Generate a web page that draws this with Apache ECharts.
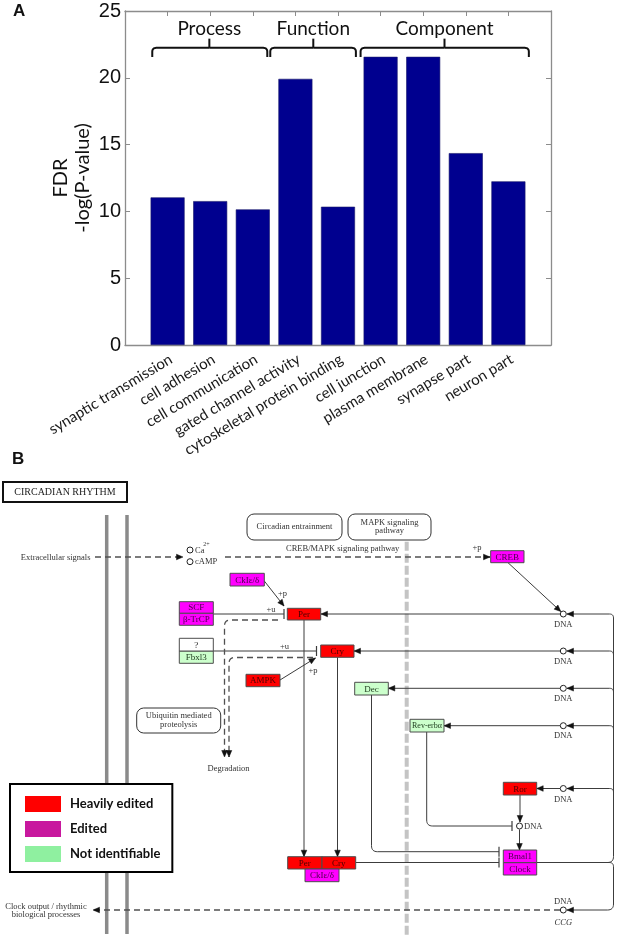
<!DOCTYPE html>
<html><head><meta charset="utf-8">
<script src="https://cdn.jsdelivr.net/npm/echarts@6/dist/echarts.min.js"></script>
<style>html,body{margin:0;padding:0;background:#fff}#c{width:617px;height:938px}</style>
</head><body><div id="c"></div><script>
// ---------- Panel A data ----------
const categories = ['synaptic transmission','cell adhesion','cell communication','gated channel activity','cytoskeletal protein binding','cell junction','plasma membrane','synapse part','neuron part'];
const fdrValues = [11.05, 10.77, 10.15, 19.92, 10.35, 21.57, 21.57, 14.36, 12.25];
const yTickValues = [0, 5, 10, 15, 20, 25];
const groupNames = ['Process', 'Function', 'Component'];
const groupStart = [0.64, 3.41, 5.53];
const groupEnd = [3.34, 5.42, 9.48];
const groupMid = [1.98, 4.42, 7.5];

// ---------- Panel B data (KEGG circadian rhythm map, map units) ----------
const statusNames = ['Heavily edited', 'Edited', 'Not identifiable'];
const geneBoxes = [ // label, x, y, w, h, status
  ['CREB',     490.7, 550.7, 33.3, 12.0, 'Edited'],
  ['CkIε/δ',   230.0, 573.3, 34.3, 12.7, 'Edited'],
  ['SCF',      179.3, 601.7, 34.0, 11.6, 'Edited'],
  ['β-TrCP',   179.3, 613.3, 34.0, 12.0, 'Edited'],
  ['?',        179.3, 638.3, 34.0, 12.7, 'Unknown'],
  ['Fbxl3',    179.3, 651.0, 34.0, 12.3, 'Not identifiable'],
  ['Per',      287.3, 608.3, 33.4, 11.7, 'Heavily edited'],
  ['Cry',      320.7, 645.0, 33.3, 12.3, 'Heavily edited'],
  ['AMPK',     246.0, 674.3, 34.0, 12.4, 'Heavily edited'],
  ['Dec',      354.7, 682.3, 33.6, 12.7, 'Not identifiable'],
  ['Rev-erbα', 410.0, 719.3, 34.0, 12.7, 'Not identifiable'],
  ['Ror',      503.3, 782.3, 33.4, 12.7, 'Heavily edited'],
  ['Per',      287.7, 856.7, 34.3, 12.3, 'Heavily edited'],
  ['Cry',      322.0, 856.7, 33.7, 12.3, 'Heavily edited'],
  ['CkIε/δ',   305.0, 869.0, 34.0, 12.7, 'Edited'],
  ['Bmal1',    503.3, 850.0, 33.4, 12.7, 'Edited'],
  ['Clock',    503.3, 862.7, 33.4, 12.3, 'Edited']
];
const relations = [ // points, end, dashed
  [[[95,557],[183,557]], 'arrow', true],
  [[[225,557],[490,557]], 'arrow', true],
  [[[508,562.7],[560.8,611.5]], 'arrow', false],
  [[[264.3,581],[284,606]], 'arrow', false],
  [[[213.3,614],[284,614]], 'inhibit', false],
  [[[213.3,651],[316.5,651]], 'inhibit', false],
  [[[280,680],[315.5,658]], 'arrow', false],
  [[[560,614],[321,614]], 'arrow', false],
  [[[560,651],[354,651]], 'arrow', false],
  [[[560,688.3],[388.3,688.3]], 'arrow', false],
  [[[560,725.7],[444,725.7]], 'arrow', false],
  [[[304,620],[304,856.7]], 'arrow', false],
  [[[337.5,657.3],[337.5,856.7]], 'arrow', false],
  [[[371.5,695],[371.5,851.7],[499,851.7]], 'inhibit', false],
  [[[355.7,862.5],[499,862.5]], 'inhibit', false],
  [[[426.7,732],[426.7,826],[512,826]], 'inhibit', false],
  [[[520,795],[520,822]], 'arrow', false],
  [[[519.5,829.5],[519.5,850]], 'arrow', false],
  [[[560,788.5],[536.7,788.5]], 'arrow', false],
  [[[613.5,622],[613.5,614],[567,614]], 'arrow', false],
  [[[613.5,659],[613.5,651],[567,651]], 'arrow', false],
  [[[613.5,696],[613.5,688.3],[567,688.3]], 'arrow', false],
  [[[613.5,733],[613.5,725.7],[567,725.7]], 'arrow', false],
  [[[613.5,796],[613.5,788.5],[567,788.5]], 'arrow', false],
  [[[613.5,620],[613.5,862.5],[536.7,862.5]], 'line', false],
  [[[605,862.5],[613.5,862.5],[613.5,910],[567,910]], 'arrow', false],
  [[[560,910],[93,910]], 'arrow', true],
  [[[278,620],[224.5,620],[224.5,757]], 'arrow', true],
  [[[313,657.5],[229,657.5],[229,757]], 'arrow', true]
];
const compoundSites = [[190,550],[190,561.7],[563.3,614],[563.3,651],[563.3,688.3],[563.3,725.7],[563.3,788.5],[519.5,826],[563.3,910]];
const mapTexts = [ // text, x, y, align, kind
  ['Extracellular signals', 90.5, 557.7, 'right', 'n'],
  ['Ca', 195, 550.5, 'left', 'n'],
  ['2+', 206.5, 544.5, 'center', 's'],
  ['cAMP', 195, 562, 'left', 'n'],
  ['CREB/MAPK signaling pathway', 286, 549, 'left', 'n'],
  ['+p', 477, 547.5, 'center', 'n'],
  ['+p', 282.5, 593.5, 'center', 'n'],
  ['+u', 271, 609.5, 'center', 'n'],
  ['+u', 284.5, 646.5, 'center', 'n'],
  ['+p', 313, 670.5, 'center', 'n'],
  ['DNA', 563.3, 624.5, 'center', 'n'],
  ['DNA', 563.3, 661.5, 'center', 'n'],
  ['DNA', 563.3, 698.8, 'center', 'n'],
  ['DNA', 563.3, 736.2, 'center', 'n'],
  ['DNA', 563.3, 800, 'center', 'n'],
  ['DNA', 524, 826.5, 'left', 'n'],
  ['DNA', 563.3, 901.5, 'center', 'n'],
  ['CCG', 563.3, 922.5, 'center', 'i'],
  ['Degradation', 228.5, 768.3, 'center', 'n'],
  ['Clock output / rhythmic', 46, 906.7, 'center', 'n'],
  ['biological processes', 46, 914.3, 'center', 'n']
];
const mapBoxes = [ // lines, x, y, w, h
  [['Circadian entrainment'], 247, 514, 95, 26],
  [['MAPK signaling', 'pathway'], 348, 514, 83, 26],
  [['Ubiquitin mediated', 'proteolysis'], 136.7, 708, 84, 25]
];
const membranes = [[106.7, 515, 934], [127, 515, 934]];
const nucleusEdge = [[406.7, 541.7, 936]];
const mapTitle = [['CIRCADIAN RHYTHM', 3, 482, 124, 20]];

// ---------- rendering ----------
const SERIF = '"Liberation Serif", "DejaVu Serif", serif';
const LINE = '#3c3c3c';
const boxFill = {'Heavily edited':'#ff0000', 'Edited':'#ff00ff', 'Not identifiable':'#ccffcc', 'Unknown':'#ffffff'};
const boxText = {'Heavily edited':'#4a0000', 'Edited':'#4a004a', 'Not identifiable':'#1c3a1c', 'Unknown':'#222'};
const legendColor = {'Heavily edited':'#ff0000', 'Edited':'#c8189e', 'Not identifiable':'#8ff0a0'};

function roundPts(pts, r) {
  if (pts.length < 3) return pts.slice();
  const out = [pts[0]];
  for (let i = 1; i < pts.length - 1; i++) {
    const p0 = pts[i-1], p1 = pts[i], p2 = pts[i+1];
    const d1 = Math.hypot(p1[0]-p0[0], p1[1]-p0[1]), d2 = Math.hypot(p2[0]-p1[0], p2[1]-p1[1]);
    const rr = Math.min(r, d1/2, d2/2);
    const a = [p1[0] + (p0[0]-p1[0])/d1*rr, p1[1] + (p0[1]-p1[1])/d1*rr];
    const b = [p1[0] + (p2[0]-p1[0])/d2*rr, p1[1] + (p2[1]-p1[1])/d2*rr];
    for (let k = 0; k <= 8; k++) {
      const t = k/8;
      out.push([(1-t)*(1-t)*a[0] + 2*(1-t)*t*p1[0] + t*t*b[0], (1-t)*(1-t)*a[1] + 2*(1-t)*t*p1[1] + t*t*b[1]]);
    }
  }
  out.push(pts[pts.length-1]);
  return out;
}
function txt(text, x, y, font, fill, align, va) {
  return {type:'text', style:{text, x, y, font, fill, align, verticalAlign: va || 'middle', textAlign: align, textVerticalAlign: va || 'middle'}};
}
const diag = {xAxisIndex:2, yAxisIndex:2, coordinateSystem:'cartesian2d', silent:true};

const series = [];
series.push({
  type:'bar', xAxisIndex:0, yAxisIndex:0, barWidth:34,
  data: fdrValues.map((v,i) => [i+1, v]),
  itemStyle:{color:'#00008f', borderColor:'#1a1a6a', borderWidth:0.6}, silent:true
});
series.push({
  type:'custom', xAxisIndex:0, yAxisIndex:0, silent:true,
  data: groupNames.map((n,i) => [groupStart[i], groupEnd[i], groupMid[i]]),
  renderItem: (params, api) => {
    const x0 = api.value(0), x1 = api.value(1), xm = api.value(2);
    const yEnd = 21.56, yLine = 22.24, yTip = 22.93, yText = 23.69;
    const st = {stroke:'#111', lineWidth:2, fill:'none'};
    const a = roundPts([api.coord([x0,yEnd]), api.coord([x0,yLine]), api.coord([xm,yLine])], 4);
    const b = roundPts([api.coord([xm,yLine]), api.coord([x1,yLine]), api.coord([x1,yEnd])], 4);
    const m0 = api.coord([xm,yLine]), m1 = api.coord([xm,yTip]);
    const t = api.coord([xm,yText]);
    return {type:'group', children:[
      {type:'polyline', shape:{points:a}, style:st},
      {type:'polyline', shape:{points:b}, style:st},
      {type:'line', shape:{x1:m0[0], y1:m0[1], x2:m1[0], y2:m1[1]}, style:st},
      txt(groupNames[params.dataIndex], t[0], t[1], '19px Lato', '#111', 'center')
    ]};
  }
});
series.push(Object.assign({type:'custom', data:[[0,0]], z:1,
  renderItem: (params, api) => {
    const ch = [];
    membranes.forEach(m => { const p = api.coord([m[0], m[1]]), q = api.coord([m[0], m[2]]);
      ch.push({type:'line', shape:{x1:p[0], y1:p[1], x2:q[0], y2:q[1]}, style:{stroke:'#8a8a8a', lineWidth:3.5}}); });
    nucleusEdge.forEach(m => { const p = api.coord([m[0], m[1]]), q = api.coord([m[0], m[2]]);
      ch.push({type:'line', shape:{x1:p[0], y1:p[1], x2:q[0], y2:q[1]}, style:{stroke:'#c4c4c4', lineWidth:4, lineDash:[9,3]}}); });
    mapTitle.forEach(m => { const p = api.coord([m[1], m[2]]);
      ch.push({type:'rect', shape:{x:p[0], y:p[1], width:m[3], height:m[4]}, style:{fill:'#fff', stroke:'#111', lineWidth:2}});
      ch.push(txt(m[0], p[0]+m[3]/2, p[1]+m[4]/2+0.5, '10px ' + SERIF, '#222', 'center')); });
    mapBoxes.forEach(m => { const p = api.coord([m[1], m[2]]);
      ch.push({type:'rect', shape:{x:p[0], y:p[1], width:m[3], height:m[4], r:7}, style:{fill:'#fff', stroke:'#333', lineWidth:1}});
      const n = m[0].length;
      m[0].forEach((line, k) => ch.push(txt(line, p[0]+m[3]/2, p[1]+m[4]/2 + (k-(n-1)/2)*8.5, '8.5px ' + SERIF, '#333', 'center'))); });
    return {type:'group', children:ch};
  }}, diag));
series.push(Object.assign({type:'custom', z:2,
  data: relations.map(r => [r[0][0][0], r[0][0][1]]),
  renderItem: (params, api) => {
    const [pts, kind, dashed] = relations[params.dataIndex];
    const px = pts.map(p => api.coord(p));
    const ch = [{type:'polyline', shape:{points:roundPts(px, 6)},
      style:{stroke: dashed ? '#505050' : LINE, lineWidth: dashed ? 1.3 : 1, lineDash: dashed ? [6,4] : null, fill:'none'}}];
    const e = px[px.length-1], s = px[px.length-2];
    const ang = Math.atan2(e[1]-s[1], e[0]-s[0]);
    const c = Math.cos(ang), sn = Math.sin(ang);
    if (kind === 'arrow') {
      const L = 6.5, W = 2.8, bx = e[0]-L*c, by = e[1]-L*sn;
      ch.push({type:'polygon', shape:{points:[[e[0],e[1]],[bx - W*sn, by + W*c],[bx + W*sn, by - W*c]]}, style:{fill:'#111', stroke:'#111', lineWidth:0.5}});
    } else if (kind === 'inhibit') {
      const H = 5;
      ch.push({type:'line', shape:{x1:e[0]-H*sn, y1:e[1]+H*c, x2:e[0]+H*sn, y2:e[1]-H*c}, style:{stroke:LINE, lineWidth:1.2}});
    }
    return {type:'group', children:ch};
  }}, diag));
series.push(Object.assign({type:'custom', z:3, data: compoundSites,
  renderItem: (params, api) => {
    const p = api.coord([api.value(0), api.value(1)]);
    return {type:'circle', shape:{cx:p[0], cy:p[1], r:3}, style:{fill:'#fff', stroke:'#222', lineWidth:1}};
  }}, diag));
series.push(Object.assign({type:'custom', z:3, data: mapTexts.map(t => [t[1], t[2]]),
  renderItem: (params, api) => {
    const t = mapTexts[params.dataIndex];
    const p = api.coord([t[1], t[2]]);
    const font = t[4] === 's' ? '6px ' + SERIF : t[4] === 'i' ? 'italic 8.5px ' + SERIF : '8.5px ' + SERIF;
    return txt(t[0], p[0], p[1], font, '#333', t[3]);
  }}, diag));
['Heavily edited', 'Edited', 'Not identifiable', 'Unknown'].forEach(st => {
  series.push(Object.assign({type:'custom', name: st, z:4,
    itemStyle:{color: legendColor[st] || '#fff'},
    data: geneBoxes.map((g,i) => [g[1], g[2], i]).filter(d => geneBoxes[d[2]][5] === st),
    renderItem: (params, api) => {
      const g = geneBoxes[api.value(2)];
      const p = api.coord([g[1], g[2]]);
      const fs = g[0].length > 6 ? 8 : 9;
      return {type:'group', children:[
        {type:'rect', shape:{x:p[0], y:p[1], width:g[3], height:g[4]}, style:{fill:boxFill[g[5]], stroke:'#4d4d4d', lineWidth:1}},
        txt(g[0], p[0]+g[3]/2, p[1]+g[4]/2+0.5, fs + 'px ' + SERIF, boxText[g[5]], 'center')
      ]};
    }}, diag));
});

const chart = echarts.init(document.getElementById('c'));
chart.setOption({
  animation:false,
  backgroundColor:'#fff',
  title:[
    {text:'A', left:13, top:3, padding:0, textStyle:{fontFamily:'Liberation Sans', fontWeight:'bold', fontSize:17, color:'#111'}},
    {text:'B', left:12, top:451, padding:0, textStyle:{fontFamily:'Liberation Sans', fontWeight:'bold', fontSize:17, color:'#111'}}
  ],
  legend:{
    data: statusNames.map(n => ({name:n, itemStyle:{color:legendColor[n], borderWidth:0}})),
    orient:'vertical', left:10, top:784, icon:'rect', itemWidth:36, itemHeight:16, itemGap:9,
    padding:[12,12,10,15], backgroundColor:'#fff', borderColor:'#000', borderWidth:2, selectedMode:false,
    textStyle:{fontFamily:'Lato', fontWeight:'bold', fontSize:13, color:'#111', padding:[0,0,0,4]}
  },
  grid:[
    {left:125, top:11, width:426, height:334},
    {left:0, top:0, width:617, height:938}
  ],
  xAxis:[
    {gridIndex:0, type:'value', min:0, max:10, interval:1, position:'bottom',
      axisLine:{show:true, onZero:false, lineStyle:{color:'#8c8c8c', width:1.3}}, axisTick:{show:false}, splitLine:{show:false},
      axisLabel:{rotate:31, margin:15, padding:[0,-4,0,0], fontFamily:'Lato', fontSize:15, color:'#1a1a1a',
        formatter: v => (v >= 1 && v <= 9) ? categories[Math.round(v)-1] : ''}},
    {gridIndex:0, type:'value', min:0, max:10, interval:1, position:'top',
      axisLine:{show:true, onZero:false, lineStyle:{color:'#8c8c8c', width:1.3}},
      axisTick:{show:true, inside:true, length:5, lineStyle:{color:'#8c8c8c'}}, axisLabel:{show:false}, splitLine:{show:false}},
    {gridIndex:1, type:'value', min:0, max:617, show:false}
  ],
  yAxis:[
    {gridIndex:0, type:'value', min:0, max:25, interval:5, position:'left',
      axisLine:{show:true, onZero:false, lineStyle:{color:'#8c8c8c', width:1.3}},
      axisTick:{show:true, inside:true, length:5, lineStyle:{color:'#8c8c8c'}}, splitLine:{show:false},
      axisLabel:{fontFamily:'Liberation Sans', fontSize:20, color:'#111', margin:4,
        formatter: v => yTickValues.includes(v) ? String(v) : ''},
      name:'FDR\n-log(P-value)', nameLocation:'middle', nameGap:31, nameRotate:90, nameMoveOverlap:false,
      nameTextStyle:{fontFamily:'Lato', fontSize:20, lineHeight:22, color:'#111'}},
    {gridIndex:0, type:'value', min:0, max:25, interval:5, position:'right',
      axisLine:{show:true, onZero:false, lineStyle:{color:'#8c8c8c', width:1.3}},
      axisTick:{show:true, inside:true, length:5, lineStyle:{color:'#8c8c8c'}}, axisLabel:{show:false}, splitLine:{show:false}},
    {gridIndex:1, type:'value', min:0, max:938, inverse:true, show:false}
  ],
  series
});
</script></body></html>
